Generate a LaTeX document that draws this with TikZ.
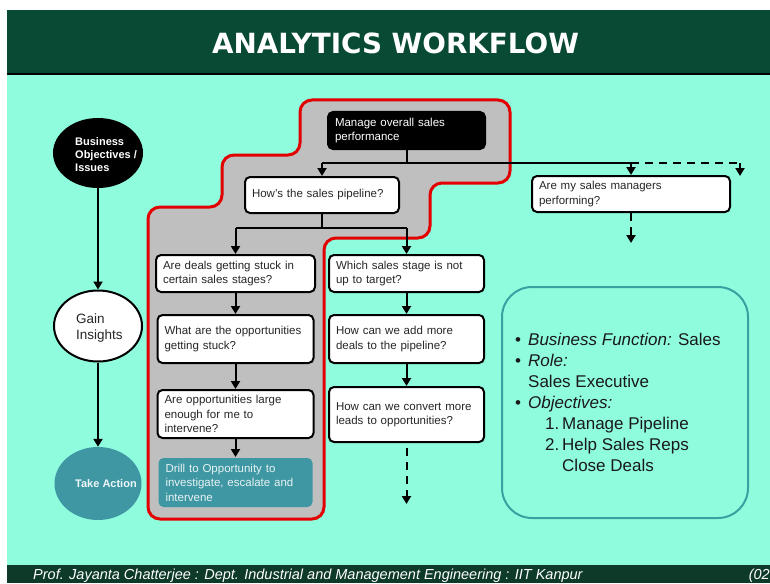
\documentclass[tikz,border=0pt]{standalone}
\usepackage{fontspec}
\setmainfont{Liberation Sans}
\newfontfamily\titlefont{DejaVu Sans}
\usetikzlibrary{arrows.meta,shapes.geometric}
\definecolor{aqua}{RGB}{143,252,222}
\definecolor{titlebg}{RGB}{9,74,52}
\definecolor{footbg}{RGB}{14,58,42}
\definecolor{tealc}{RGB}{62,151,163}
\definecolor{grayfill}{RGB}{191,191,191}
\definecolor{redline}{RGB}{226,0,0}
\definecolor{infoedge}{RGB}{58,160,160}
\begin{document}
\begin{tikzpicture}[x=1pt,y=-1pt,
  box/.style={draw=black, line width=2pt, rounded corners=5pt, fill=white, align=left,
    font=\fontsize{11.5}{14.5}\selectfont, text=black!85, inner ysep=0pt, inner xsep=7pt, anchor=center},
  arr/.style={line width=2pt, -{Triangle[width=9pt,length=8pt]}},
  ln/.style={line width=2pt},
  dsh/.style={line width=2pt, dash pattern=on 8pt off 6pt},
  dsharr/.style={line width=2pt, dash pattern=on 8pt off 6pt, -{Triangle[width=9pt,length=8pt]}},
  ell/.style={ellipse, inner sep=0pt, anchor=center}
]
\useasboundingbox (0,0) rectangle (770,583);
\fill[white] (0,0) rectangle (770,583);
\fill[aqua] (7,74) rectangle (770,565);
\fill[titlebg] (7,10) rectangle (770,74);
\draw[black, line width=1.5pt] (7,74) -- (770,74);
\fill[footbg] (7,565) rectangle (770,583);

\node[text=white, font=\titlefont\bfseries\fontsize{27.8}{30}\selectfont] (title) at (395.5,43) {ANALYTICS WORKFLOW};

% red stepped region
\draw[redline, line width=3pt, fill=grayfill, rounded corners=12pt]
  (400,100) -- (510,100) -- (510,183) -- (430,183) -- (430,238) -- (324,238) -- (324,519)
  -- (148,519) -- (148,207) -- (222,207) -- (222,155) -- (300,155) -- (300,100) -- cycle;

% boxes
\node[box, fill=black, text=white, text width=143pt, minimum height=37pt] (top) at (406.5,130.5) {Manage overall sales\\performance};
\node[box, text width=140pt, minimum height=36pt] (pipe) at (322,195) {How's the sales pipeline?};
\node[box, text width=184pt, minimum height=36pt] (mgr) at (631,194) {Are my sales managers\\performing?};
\node[box, text width=145pt, minimum height=37pt] (L1) at (235.5,273.5) {Are deals getting stuck in\\certain sales stages?};
\node[box, text width=142pt, minimum height=48pt] (L2) at (235.5,339) {What are the opportunities\\getting stuck?};
\node[box, text width=142pt, minimum height=48pt] (L3) at (235.5,414) {Are opportunities large\\enough for me to\\intervene?};
\node[box, draw=none, fill=tealc, text=white!88!tealc, text width=140pt, minimum height=49pt] (L4) at (235.5,482.5) {Drill to Opportunity to\\investigate, escalate and\\intervene};
\node[box, text width=141pt, minimum height=37pt] (R1) at (406.5,273.5) {Which sales stage is not\\up to target?};
\node[box, text width=141pt, minimum height=48pt] (R2) at (406.5,339) {How can we add more\\deals to the pipeline?};
\node[box, text width=141pt, minimum height=55pt] (R3) at (406.5,414.5) {How can we convert more\\leads to opportunities?};

% junctions
\coordinate (j1) at (406.5,163);
\coordinate (jL) at (322,163);
\coordinate (jR) at (631,163);
\coordinate (jD) at (740,163);
\coordinate (jDe) at (740,176);
\coordinate (mgrE) at (631,243);
\coordinate (j2) at (322,228);
\coordinate (j2L) at (235.5,228);
\coordinate (j2R) at (406.5,228);
\coordinate (r3s) at (406.5,448);
\coordinate (r3e) at (406.5,504);

\draw[ln] (top.south) -- (j1);
\draw[ln] (jL) -- (jR);
\draw[arr] (jL) -- (pipe.north);
\draw[arr] (jR) -- (mgr.north);
\draw[dsh] (jR) -- (jD);
\draw[-{Triangle[width=9pt,length=8pt]}, line width=2pt] (jD) -- (jDe);
\draw[dsharr] (mgr.south) -- (mgrE);

\draw[ln] (pipe.south) -- (j2);
\draw[ln] (j2L) -- (j2R);
\draw[arr] (j2L) -- (L1.north);
\draw[arr] (j2R) -- (R1.north);
\draw[arr] (L1.south) -- (L2.north);
\draw[arr] (L2.south) -- (L3.north);
\draw[arr] (L3.south) -- (L4.north);
\draw[arr] (R1.south) -- (R2.north);
\draw[arr] (R2.south) -- (R3.north);
\draw[dsharr] (r3s) -- (r3e);

% left ellipses
\node[ell, fill=black, minimum width=90pt, minimum height=70pt] (bo) at (98,153) {};
\node[ell, fill=white, draw=black, line width=2pt, minimum width=88pt, minimum height=71pt] (gi) at (98,326) {};
\node[ell, fill=tealc, minimum width=87pt, minimum height=73pt] (ta) at (98,483.5) {};
\node[anchor=west, align=left, text=white, inner sep=0pt, font=\bfseries\fontsize{11}{13}\selectfont] (boT) at (75,155) {Business\\Objectives /\\Issues};
\node[anchor=west, align=left, text=black!85, inner sep=0pt, font=\fontsize{13.5}{16}\selectfont] (giT) at (76,328) {Gain\\Insights};
\node[anchor=west, align=left, text=white!92!tealc, inner sep=0pt, font=\bfseries\fontsize{11}{13}\selectfont] (taT) at (75,484) {Take Action};
\draw[arr] (bo.south) -- (gi.north);
\draw[arr] (gi.south) -- (ta.north);

% info box
\node[draw=infoedge, line width=2pt, rounded corners=30pt, minimum width=246pt, minimum height=231pt, inner sep=0pt] (info) at (625,402.5) {};
\node[anchor=north west, align=left, inner sep=0pt, text=black!90, font=\fontsize{17}{21}\selectfont] (infoT) at (515,333) {%
\makebox[13pt][l]{•}\textit{Business Function:} Sales\\
\makebox[13pt][l]{•}\textit{Role:}\\
\hspace*{13pt}Sales Executive\\
\makebox[13pt][l]{•}\textit{Objectives:}\\
\hspace*{30pt}\makebox[17pt][l]{1.}Manage Pipeline\\
\hspace*{30pt}\makebox[17pt][l]{2.}Help Sales Reps\\
\hspace*{47pt}Close Deals};

% footer
\node[anchor=west, text=white, inner sep=0pt, font=\itshape\fontsize{14.5}{16}\selectfont] (foot) at (33,576) {Prof. Jayanta Chatterjee : Dept. Industrial and Management Engineering : IIT Kanpur};
\node[anchor=east, text=white, inner sep=0pt, font=\itshape\fontsize{14.5}{16}\selectfont] (page) at (770,576) {(02};
\end{tikzpicture}
\end{document}
